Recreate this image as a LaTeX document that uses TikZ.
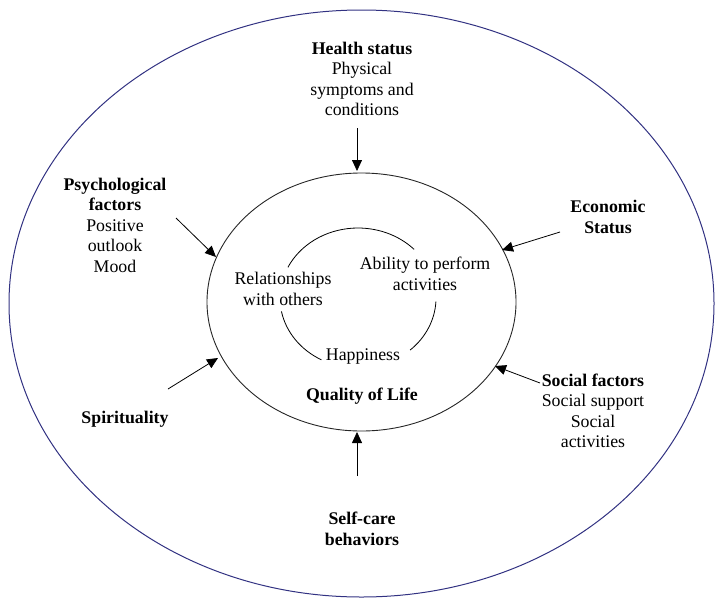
\documentclass[tikz,border=0pt]{standalone}
\usepackage{fontspec}
\setmainfont{Liberation Serif}
\usetikzlibrary{arrows.meta}
\definecolor{navy}{RGB}{50,50,130}
\begin{document}
\begin{tikzpicture}[x=1pt,y=-1pt,
  lbl/.style={align=center,inner sep=0pt,font=\fontsize{17.8}{20.5}\selectfont},
  arr/.style={line width=0.8pt,-{Triangle[length=11pt,width=10pt]}},
  ring/.style={line width=0.8pt}]
\useasboundingbox (0,0) rectangle (727,608);
% outer and inner ellipses
\draw[navy,line width=1pt] (361.5,303.5) ellipse [x radius=352.5,y radius=293.5];
\draw[black!85,line width=0.9pt] (361.5,302) ellipse [x radius=154.5,y radius=129];
% inner arcs
\draw[ring] ([shift={(-154:78 and 70)}]358,298) arc[start angle=-154,end angle=-44,x radius=78,y radius=70];
\draw[ring] ([shift={(169:78 and 70)}]358,298) arc[start angle=169,end angle=118,x radius=78,y radius=70];
\draw[ring] ([shift={(48:78 and 70)}]358,298) arc[start angle=48,end angle=3,x radius=78,y radius=70];
% inner texts
\node[lbl] (rel) at (283,289) {Relationships\\with others};
\node[lbl] (abil) at (425,274) {Ability to perform\\activities};
\node[lbl] (happy) at (363,356) {Happiness};
\node[lbl] (qol) at (362,396) {\bfseries Quality of Life};
% outer labels
\node[lbl] (health) at (362,79) {\bfseries Health status\\Physical\\symptoms and\\conditions};
\node[lbl] (psych) at (115,225) {\bfseries Psychological\\\bfseries factors\\Positive\\outlook\\Mood};
\node[lbl] (econ) at (608,217) {\bfseries Economic\\\bfseries Status};
\node[lbl] (spirit) at (125,419) {\bfseries Spirituality};
\node[lbl] (social) at (593,411) {\bfseries Social factors\\Social support\\Social\\activities};
\node[lbl] (self) at (362,529) {\bfseries Self-care\\\bfseries behaviors};
% arrow ends
\coordinate (h1) at (357,128); \coordinate (h2) at (357,171);
\coordinate (p1) at (176,218); \coordinate (p2) at (216,257);
\coordinate (e1) at (560,232); \coordinate (e2) at (502,250);
\coordinate (s1) at (168,389); \coordinate (s2) at (218,358);
\coordinate (o1) at (540,383); \coordinate (o2) at (495,366);
\coordinate (c1) at (357,476); \coordinate (c2) at (357,432);
\draw[arr] (h1) -- (h2);
\draw[arr] (p1) -- (p2);
\draw[arr] (e1) -- (e2);
\draw[arr] (s1) -- (s2);
\draw[arr] (o1) -- (o2);
\draw[arr] (c1) -- (c2);
\end{tikzpicture}
\end{document}
